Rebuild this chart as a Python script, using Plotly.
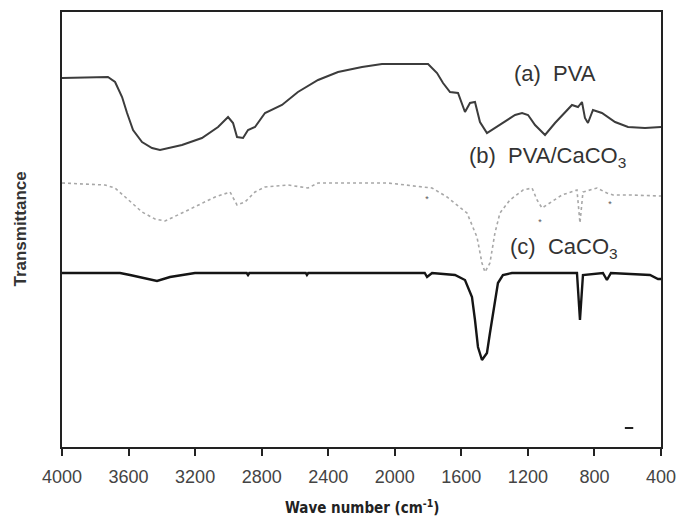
import plotly.graph_objects as go

# ---- data (wavenumber cm^-1, transmittance in arbitrary units) ----
pva_wn = [4000, 3724, 3681, 3639, 3609, 3573, 3519, 3459, 3411, 3279, 3159, 3062, 3002,
          2972, 2948, 2912, 2882, 2840, 2780, 2678, 2582, 2461, 2341, 2197, 2077, 1800,
          1746, 1710, 1668, 1620, 1578, 1548, 1518, 1488, 1446, 1398, 1356, 1320, 1277,
          1235, 1199, 1157, 1097, 1037, 977, 935, 899, 875, 857, 839, 809, 755, 676, 598,
          496, 418, 400]
pva_t = [369, 370, 365, 350, 334, 317, 305, 299, 297, 302, 309, 320, 330,
         324, 310, 309, 317, 320, 334, 342, 355, 367, 375, 380, 383, 383,
         374, 364, 355, 354, 335, 344, 345, 325, 314, 319, 324, 327, 332,
         334, 332, 322, 312, 324, 335, 342, 340, 345, 329, 324, 337, 334, 325, 320,
         319, 320, 320]

comp_wn = [4000, 3742, 3681, 3603, 3519, 3441, 3381, 3279, 3183, 3080, 2990, 2948, 2900,
           2840, 2780, 2642, 2522, 2461, 2197, 2041, 1830, 1776, 1686, 1566, 1506, 1476,
           1458, 1428, 1398, 1368, 1308, 1229, 1175, 1145, 1115, 1067, 995, 905, 887, 869,
           785, 725, 688, 586, 424, 400]
comp_t = [264, 262, 259, 247, 235, 228, 226, 234, 242, 250, 255, 242, 245,
          255, 260, 262, 259, 264, 264, 264, 260, 259, 250, 234, 210, 184,
          175, 184, 214, 234, 247, 257, 259, 247, 239, 244, 252, 257, 224, 255,
          259, 254, 252, 252, 251, 251]

caco3_wn = [4000, 3651, 3591, 3513, 3429, 3351, 3273, 3201, 2890, 2882, 2874, 2535, 2528,
            2520, 1820, 1806, 1776, 1638, 1578, 1536, 1518, 1500, 1476, 1446, 1428, 1398,
            1380, 1350, 1296, 905, 887, 869, 749, 725, 701, 466, 418, 400]
caco3_t = [174, 174, 172, 169, 166, 170, 172, 174, 174, 172, 174, 174, 172,
           174, 174, 170, 174, 172, 167, 150, 127, 100, 87, 94, 114, 144,
           164, 172, 174, 174, 127, 172, 174, 167, 174, 172, 168, 168]

labels = ["(a)  PVA", "(b)  PVA/CaCO<sub>3</sub>", "(c)  CaCO<sub>3</sub>"]
label_wn = [1037, 1085, 983]
label_t = [374, 290, 199]

star_wn = [1806, 1127, 707]
star_t = [247, 224, 242]

x_ticks = [4000, 3600, 3200, 2800, 2400, 2000, 1600, 1200, 800, 400]

fig = go.Figure()
fig.add_trace(go.Scatter(x=pva_wn, y=pva_t, mode="lines",
                         line=dict(color="#3c3c3c", width=2), showlegend=False))
fig.add_trace(go.Scatter(x=comp_wn, y=comp_t, mode="lines",
                         line=dict(color="#a8a8a8", width=1.6, dash="dot"), showlegend=False))
fig.add_trace(go.Scatter(x=caco3_wn, y=caco3_t, mode="lines",
                         line=dict(color="#151515", width=2.4), showlegend=False))
fig.add_trace(go.Scatter(x=star_wn, y=star_t, mode="text", text=["*"] * 3,
                         textfont=dict(size=9, color="#555"), showlegend=False))
fig.add_trace(go.Scatter(x=[592], y=[19], mode="markers",
                         marker=dict(symbol="line-ew", size=6,
                                     line=dict(color="#222", width=2)),
                         showlegend=False))

for t, xw, yt in zip(labels, label_wn, label_t):
    fig.add_annotation(x=xw, y=yt, text=t, showarrow=False,
                       font=dict(family="Liberation Sans, Arial", size=22, color="#333"))

# axis titles placed as paper annotations
fig.add_annotation(xref="paper", yref="paper", x=0.5, y=-0.138, yanchor="middle",
                   text="<b>Wave number (cm<sup>-1</sup>)</b>", showarrow=False,
                   font=dict(family="DejaVu Sans Condensed, DejaVu Sans", size=15, color="#222"))
fig.add_annotation(xref="paper", yref="paper", x=-0.07, y=0.5, xanchor="center",
                   textangle=-90, text="<b>Transmittance</b>", showarrow=False,
                   font=dict(family="Liberation Sans, Arial", size=17, color="#333"))

fig.update_layout(
    width=677, height=524,
    margin=dict(l=62, r=16, t=12, b=77, autoexpand=False),
    paper_bgcolor="white", plot_bgcolor="white",
    font=dict(family="Liberation Sans, Arial", color="#333"),
)
fig.update_xaxes(range=[4000, 400], tickvals=x_ticks, ticktext=[str(v) for v in x_ticks],
                 ticks="outside", ticklen=7, tickwidth=1.5, tickcolor="#222",
                 ticklabelstandoff=5,
                 showline=True, linecolor="#222", linewidth=2, mirror=True,
                 showgrid=False, zeroline=False,
                 tickfont=dict(size=18, color="#444"))
fig.update_yaxes(range=[0, 435], showticklabels=False, ticks="",
                 showline=True, linecolor="#222", linewidth=2, mirror=True,
                 showgrid=False, zeroline=False)

fig.write_html("out.html")
